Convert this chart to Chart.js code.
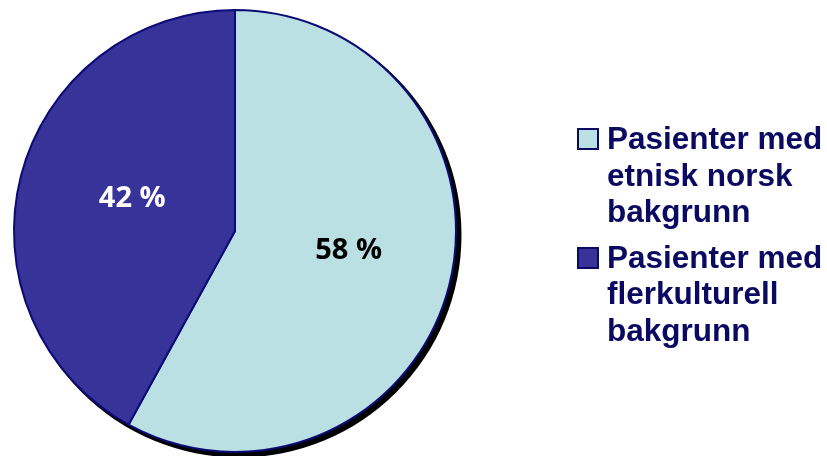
<!DOCTYPE html>
<html>
<head>
<meta charset="utf-8">
<script src="https://cdn.jsdelivr.net/npm/chart.js@4.4.0/dist/chart.umd.min.js"></script>
<style>
  html, body { margin: 0; padding: 0; background: #fff; }
  #wrap { position: relative; width: 827px; height: 456px; }
  #legend {
    position: absolute; left: 577px; top: 120px;
    font-family: "Liberation Sans", Arial, sans-serif; font-weight: bold;
    font-size: 31.5px; line-height: 36.5px; color: #0a0a62;
  }
  .item { position: relative; padding-left: 30px; margin-bottom: 9px; white-space: nowrap; }
  .box { position: absolute; left: 0; top: 8px; width: 18px; height: 18px; border: 2px solid #0a0a62; }
</style>
</head>
<body>
<div id="wrap">
  <canvas id="pie" width="827" height="456"></canvas>
  <div id="legend"></div>
</div>
<script>
// Fordeling av pasienter etter bakgrunn
const categories = [
  ['Pasienter med', 'etnisk norsk', 'bakgrunn'],
  ['Pasienter med', 'flerkulturell', 'bakgrunn']
];
const shares = [58, 42];
const sliceColors = ['#bae0e3', '#373399'];
const labelColors = ['#000000', '#ffffff'];

// black offset disc behind the pie
const shadowPlugin = {
  id: 'shadow',
  beforeDatasetsDraw(chart) {
    const arc = chart.getDatasetMeta(0).data[0];
    const ctx = chart.ctx;
    ctx.save();
    ctx.beginPath();
    ctx.arc(arc.x + 4, arc.y + 4, arc.outerRadius + 1.5, 0, Math.PI * 2);
    ctx.fillStyle = '#000';
    ctx.fill();
    ctx.restore();
  }
};

const valueLabels = {
  id: 'valueLabels',
  afterDatasetsDraw(chart) {
    const ctx = chart.ctx;
    const meta = chart.getDatasetMeta(0);
    const turn = [-0.1, 0.07];
    const dist = [0.52, 0.49];
    ctx.save();
    ctx.font = 'bold 29px "Open Sans", sans-serif';
    ctx.textAlign = 'center';
    ctx.textBaseline = 'middle';
    meta.data.forEach((arc, i) => {
      const mid = (arc.startAngle + arc.endAngle) / 2 + turn[i];
      const r = arc.outerRadius * dist[i];
      ctx.fillStyle = labelColors[i];
      ctx.fillText(shares[i] + ' %', arc.x + Math.cos(mid) * r, arc.y + Math.sin(mid) * r + 2);
    });
    ctx.restore();
  }
};

new Chart(document.getElementById('pie'), {
  type: 'pie',
  data: {
    labels: categories.map(c => c.join(' ')),
    datasets: [{
      data: shares,
      backgroundColor: sliceColors,
      borderColor: '#0b0b78',
      borderWidth: 2
    }]
  },
  options: {
    responsive: false,
    animation: false,
    layout: { padding: { left: 0, right: 357, top: 9, bottom: 3 } },
    plugins: { legend: { display: false }, tooltip: { enabled: false } }
  },
  plugins: [shadowPlugin, valueLabels]
});

const legend = document.getElementById('legend');
categories.forEach((lines, i) => {
  const item = document.createElement('div');
  item.className = 'item';
  item.innerHTML = '<span class="box" style="background:' + sliceColors[i] + '"></span>' + lines.join('<br>');
  legend.appendChild(item);
});
</script>
</body>
</html>
